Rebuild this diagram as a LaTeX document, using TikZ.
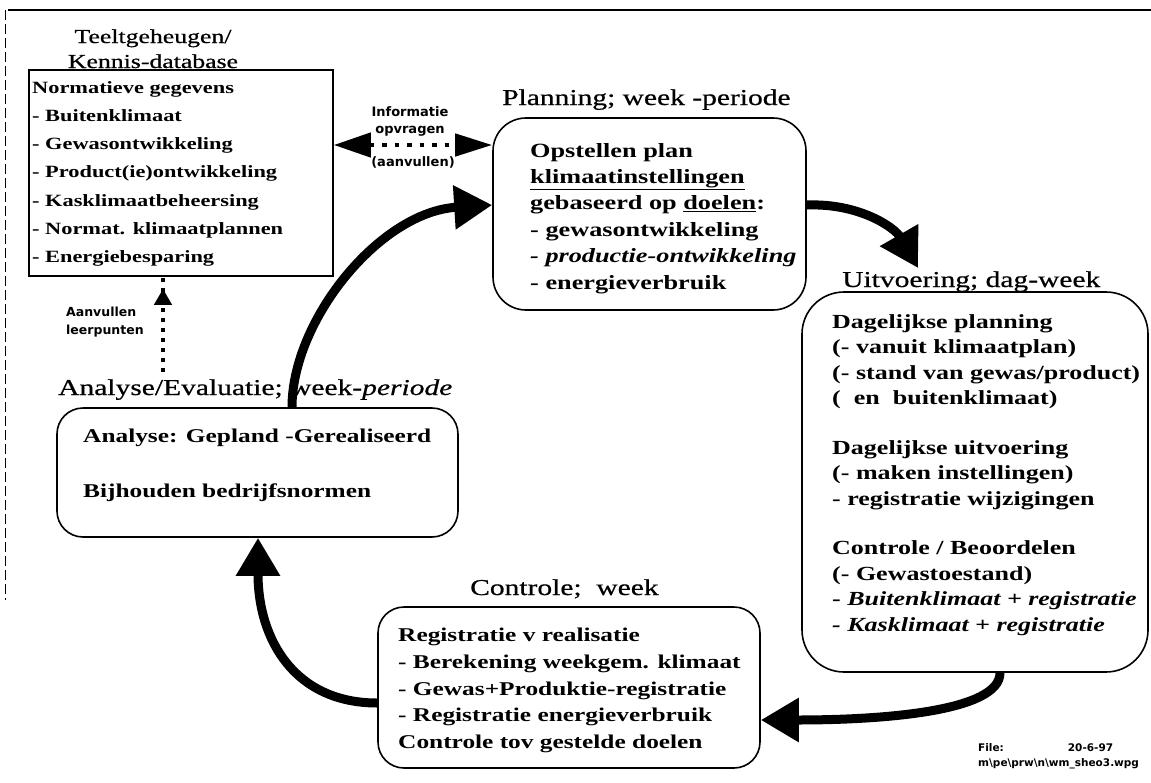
\documentclass[tikz,border=0pt]{standalone}
\usepackage{fontspec}
\setmainfont[FakeStretch=1.3]{Liberation Serif}
\newfontfamily\ft[FakeStretch=1.3, FakeBold=0.6]{Liberation Serif}
\newfontfamily\fs{DejaVu Sans}
\newcommand\mylines[2][l]{\begin{tabular}[t]{@{}#1@{}}#2\end{tabular}}
\usetikzlibrary{arrows.meta}
\tikzset{
  boxr/.style={draw, line width=1.6pt, rounded corners=#1, inner sep=0pt},
  txt/.style={anchor=base west, inner sep=0pt},
  ttl/.style={inner sep=0pt, anchor=base west, font=\fontsize{22.7}{27}\ft},
  tiny/.style={inner sep=0pt, font=\fontsize{13}{16}\fs\bfseries},
  bigarrow/.style={line width=9pt, -{Triangle[length=38pt,width=42pt]}},
}
\begin{document}
\begin{tikzpicture}[x=1pt,y=-1pt]
\useasboundingbox (0,0) rectangle (1151,782);
% frame
\draw[line width=1.5pt] (8,10) -- (1151,10);
\draw[line width=0.8pt, dash pattern=on 10pt off 4pt] (5,10) -- (5,600);

% knowledge base
\node[inner sep=0pt, anchor=base, font=\fontsize{19.8}{25}\ft] (kt) at (153,43) {\mylines[c]{Teeltgeheugen/\\Kennis-database}};
\node[draw, line width=1.6pt, inner sep=0pt, minimum width=304pt, minimum height=206pt] (kb) at (181,173) {};
\node[txt, font=\fontsize{17.2}{28.3}\selectfont\bfseries] (kbt) at (32,93) {\mylines{Normatieve gegevens\\- Buitenklimaat\\- Gewasontwikkeling\\- Product(ie)ontwikkeling\\- Kasklimaatbeheersing\\- Normat. klimaatplannen\\- Energiebesparing}};

% planning
\node[ttl] (pt) at (502,105) {Planning; week -periode};
\node[boxr=33pt, minimum width=313pt, minimum height=192pt] (pb) at (649.5,214) {};
\node[txt, font=\fontsize{20.2}{26.4}\selectfont\bfseries] (pbt) at (530,157) {\mylines{Opstellen plan\\\underline{klimaatinstellingen}\\gebaseerd op \underline{doelen}:\\- gewasontwikkeling\\\textit{- productie-ontwikkeling}\\- energieverbruik}};

% info double arrow
\draw[line width=4.5pt, dash pattern=on 4.5pt off 8pt, {Triangle[length=37pt,width=24pt]}-{Triangle[length=37pt,width=22pt]}] (kb.east |- 0,145) -- (pb.west |- 0,145);
\node[tiny, anchor=base, font=\fontsize{13}{17}\fs\bfseries] (inf) at (410,116.5) {\mylines[c]{Informatie\\opvragen}};
\node[tiny] (aan) at (413,162) {(aanvullen)};

% uitvoering
\node[ttl] (ut) at (842,287) {Uitvoering; dag-week};
\node[boxr=42pt, minimum width=346pt, minimum height=380pt] (ub) at (975,482) {};
\node[txt, font=\fontsize{20.0}{25.5}\selectfont\bfseries] (ubt) at (832,328) {\mylines{Dagelijkse planning\\(- vanuit klimaatplan)\\(- stand van gewas/product)\\(\ \ en\ \ buitenklimaat)\\[24pt]Dagelijkse uitvoering\\(- maken instellingen)\\- registratie wijzigingen\\[24pt]Controle / Beoordelen\\(- Gewastoestand)\\- \textit{Buitenklimaat + registratie}\\\textit{- Kasklimaat + registratie}}};

% controle
\node[ttl] (ct) at (470,595) {Controle;\ \ week};
\node[boxr=26pt, minimum width=382pt, minimum height=161pt] (cb) at (569,687.5) {};
\node[txt, font=\fontsize{19.5}{26.75}\selectfont\bfseries] (cbt) at (398,641.5) {\mylines{Registratie v realisatie\\- Berekening weekgem. klimaat\\- Gewas+Produktie-registratie\\- Registratie energieverbruik\\Controle tov gestelde doelen}};

% analyse
\node[ttl] (at) at (58,395) {Analyse/Evaluatie; week-\textit{periode}};
\node[boxr=26pt, minimum width=401pt, minimum height=129pt] (ab) at (257.5,472.5) {};
\node[txt, font=\fontsize{19.5}{55}\selectfont\bfseries] (abt) at (83,442) {\mylines{Analyse: Gepland -Gerealiseerd\\Bijhouden bedrijfsnormen}};

% aanvullen leerpunten
\node[tiny, anchor=base west, font=\fontsize{12.5}{18}\fs\bfseries] (al) at (66,316) {\mylines{Aanvullen\\leerpunten}};
\coordinate (alS) at (163,372);
\draw[line width=4pt, dash pattern=on 4pt off 6pt, -{Triangle[length=16pt,width=17pt]}] (alS) -- (kb.south -| 163,0) ++(0,12) coordinate (alT);

% cycle arrows
\draw[bigarrow] (pb.east |- 0,205) .. controls (860,203) and (895,228) .. (918,268);
\draw[bigarrow] (ub.south -| 1000,0) .. controls (1000,712) and (880,720) .. (cb.east |- 0,720);
\draw[bigarrow] (cb.west |- 0,703) .. controls (295,703) and (258,640) .. (ab.south -| 258,0);
\draw[bigarrow] (ab.north -| 292,0) .. controls (292,320) and (380,212) .. (pb.west |- 0,205);

% file label
\node[inner sep=0pt, anchor=base west, font=\fontsize{10.5}{15}\fs\bfseries] (fl) at (978,751) {\mylines{File:\hspace{64pt}20-6-97\\m\textbackslash pe\textbackslash prw\textbackslash n\textbackslash wm\_sheo3.wpg}};
\end{tikzpicture}
\end{document}
